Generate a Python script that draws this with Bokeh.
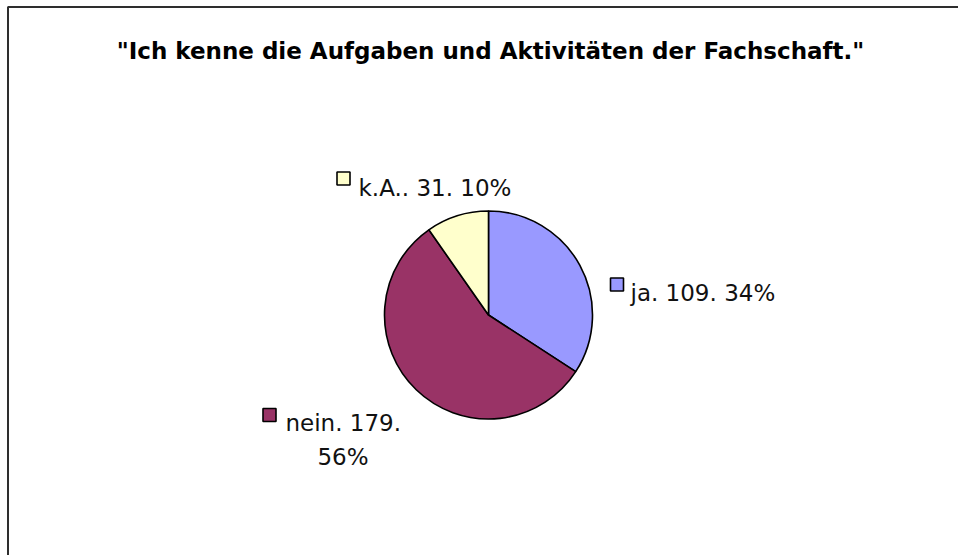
import numpy as np
from bokeh.plotting import figure
from bokeh.models import Range1d, ColumnDataSource
from bokeh.core.properties import value
from bokeh.embed import file_html
from bokeh.resources import INLINE

# ---- data ----
title_text = '"Ich kenne die Aufgaben und Aktivitäten der Fachschaft."'
categories = ["ja", "nein", "k.A."]
counts = [109, 179, 31]
colors = ["#9999FF", "#993366", "#FFFFCC"]

# ---- layout (page pixel coordinates) ----
W, H = 958, 555
CENTER = (488, 314.5)
RADIUS = 104
# legend-square centre, text anchor per label (page px)
SQUARE_POS = [(616.5, 284), (269, 414.5), (343, 178)]
TEXT_POS = [(630, 292.5), (285, 422.5), (358, 187)]
SECOND_LINE_POS = (342.5, 456)


def Y(y):
    return H - y


p = figure(width=W, height=H, x_range=Range1d(0, W), y_range=Range1d(0, H),
           output_backend="svg", toolbar_location=None, min_border=0,
           x_axis_location=None, y_axis_location=None)
p.grid.visible = False
p.outline_line_color = None
p.background_fill_color = "white"
p.border_fill_color = "white"

# chart-area frame (only left and top edges visible in the crop)
p.line(x=[7.5, 7.5, 1100], y=[Y(700), Y(6.5), Y(6.5)], line_color="#2e2e2e", line_width=2)

# pie
total = float(sum(counts))
fr = np.array(counts) / total
cum = np.cumsum(fr)
start = np.pi / 2 - 2 * np.pi * (cum - fr)
end = np.pi / 2 - 2 * np.pi * cum
src = ColumnDataSource(dict(start=start, end=end, color=colors, cat=categories, n=counts))
p.wedge(x=CENTER[0], y=Y(CENTER[1]), radius=RADIUS, start_angle="start", end_angle="end",
        direction="clock", fill_color="color", line_color="black", line_width=1.6, source=src)

# labels
pcts = [int(round(100 * c / total)) for c in counts]
label_font = value("DejaVu Sans")
for i, (cat, n, pc) in enumerate(zip(categories, counts, pcts)):
    sx, sy = SQUARE_POS[i]
    p.scatter(x=[sx], y=[Y(sy)], marker="square", size=13, fill_color=colors[i],
              line_color="black", line_width=1.6)
    tx, ty = TEXT_POS[i]
    if cat == "nein":
        p.text(x=[tx], y=[Y(ty)], text=[f"{cat}. {n}."], text_font=label_font,
               text_font_size="23px", text_color="#111111", text_align="left",
               text_baseline="alphabetic")
        p.text(x=[SECOND_LINE_POS[0]], y=[Y(SECOND_LINE_POS[1])], text=[f"{pc}%"],
               text_font=label_font, text_font_size="23px", text_color="#111111",
               text_align="center", text_baseline="alphabetic")
    else:
        p.text(x=[tx], y=[Y(ty)], text=[f"{cat}. {n}. {pc}%"], text_font=label_font,
               text_font_size="23px", text_color="#111111", text_align="left",
               text_baseline="alphabetic")

# title
p.text(x=[490], y=[Y(50.5)], text=[title_text], text_font=value("DejaVu Sans"),
       text_font_style="bold", text_font_size="23px", text_color="black",
       text_align="center", text_baseline="alphabetic")

open("out.html", "w").write(file_html(p, INLINE))
